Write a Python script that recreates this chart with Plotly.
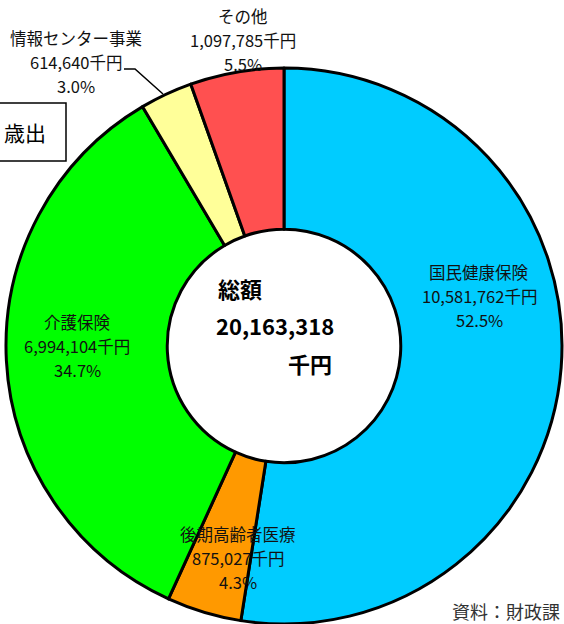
import plotly.graph_objects as go

# ---- data ----
categories = ["国民健康保険", "後期高齢者医療", "介護保険", "情報センター事業", "その他"]
values = [10581762, 875027, 6994104, 614640, 1097785]          # 千円
percent_labels = ["52.5%", "4.3%", "34.7%", "3.0%", "5.5%"]
total_value = 20163318
colors = ["#00CCFF", "#FF9900", "#00FF00", "#FFFF99", "#FF5050"]

W, H = 564, 624
FONT = "Noto Sans CJK JP"

def px(x):
    return x / W

def py(y):
    return 1 - y / H

fig = go.Figure()
fig.add_trace(go.Pie(
    labels=categories,
    values=values,
    sort=False,
    direction="clockwise",
    rotation=0,
    hole=0.42,
    marker=dict(colors=colors, line=dict(color="#000000", width=3)),
    textinfo="none",
    hoverinfo="label+value+percent",
    domain=dict(x=[4 / W, 1], y=[0, 1 - 68 / H]),
    showlegend=False,
))

# label block centres (pixel centre of the middle line) per category
label_pos = {
    "国民健康保険": (479, 296),
    "後期高齢者医療": (238, 558),
    "介護保険": (77, 346),
    "情報センター事業": (76, 62),
    "その他": (243, 40),
}
line_gap = 24

annotations = []
for cat, val, pct in zip(categories, values, percent_labels):
    cx, cy = label_pos[cat]
    lines = [cat, f"{val:,}千円", pct]
    for i, t in enumerate(lines):
        annotations.append(dict(
            x=px(cx), y=py(cy + (i - 1) * line_gap), xref="paper", yref="paper",
            text=t, showarrow=False, xanchor="center", yanchor="middle",
            borderpad=0,
            font=dict(family=FONT, size=16.5, color="#111111"),
        ))

# centre text
annotations.append(dict(x=px(240), y=py(288), xref="paper", yref="paper",
                        text="<b>総額</b>", showarrow=False, xanchor="center", yanchor="middle",
                        font=dict(family=FONT, size=22, color="#000000")))
annotations.append(dict(x=px(275), y=py(325), xref="paper", yref="paper",
                        text=f"<b>{total_value:,}</b>", showarrow=False, xanchor="center", yanchor="middle",
                        font=dict(family=FONT, size=22, color="#000000")))
annotations.append(dict(x=px(310), y=py(363), xref="paper", yref="paper",
                        text="<b>千円</b>", showarrow=False, xanchor="center", yanchor="middle",
                        font=dict(family=FONT, size=22, color="#000000")))

# title box text
annotations.append(dict(x=px(48), y=py(132), xref="paper", yref="paper",
                        text="歳出", showarrow=False, xanchor="right", yanchor="middle",
                        font=dict(family=FONT, size=21, color="#000000")))

# source note
annotations.append(dict(x=px(562), y=py(611), xref="paper", yref="paper",
                        text="資料：財政課", showarrow=False, xanchor="right", yanchor="middle",
                        font=dict(family=FONT, size=18, color="#333333")))

shapes = [
    dict(type="rect", xref="paper", yref="paper",
         x0=px(-10), x1=px(66), y0=py(161), y1=py(103),
         line=dict(color="#000000", width=1.5), fillcolor="#FFFFFF", layer="below"),
    dict(type="path", xref="paper", yref="paper",
         path=f"M {px(124)},{py(69)} L {px(135)},{py(69)} L {px(163)},{py(94)}",
         line=dict(color="#000000", width=1.5)),
]

fig.update_layout(
    width=W, height=H,
    margin=dict(l=0, r=0, t=0, b=0),
    paper_bgcolor="#FFFFFF",
    plot_bgcolor="#FFFFFF",
    annotations=annotations,
    shapes=shapes,
    showlegend=False,
)

fig.write_html(
    "out.html",
    config={"displayModeBar": False},
    post_script="document.body.style.margin='0';document.body.style.overflow='hidden';",
)
